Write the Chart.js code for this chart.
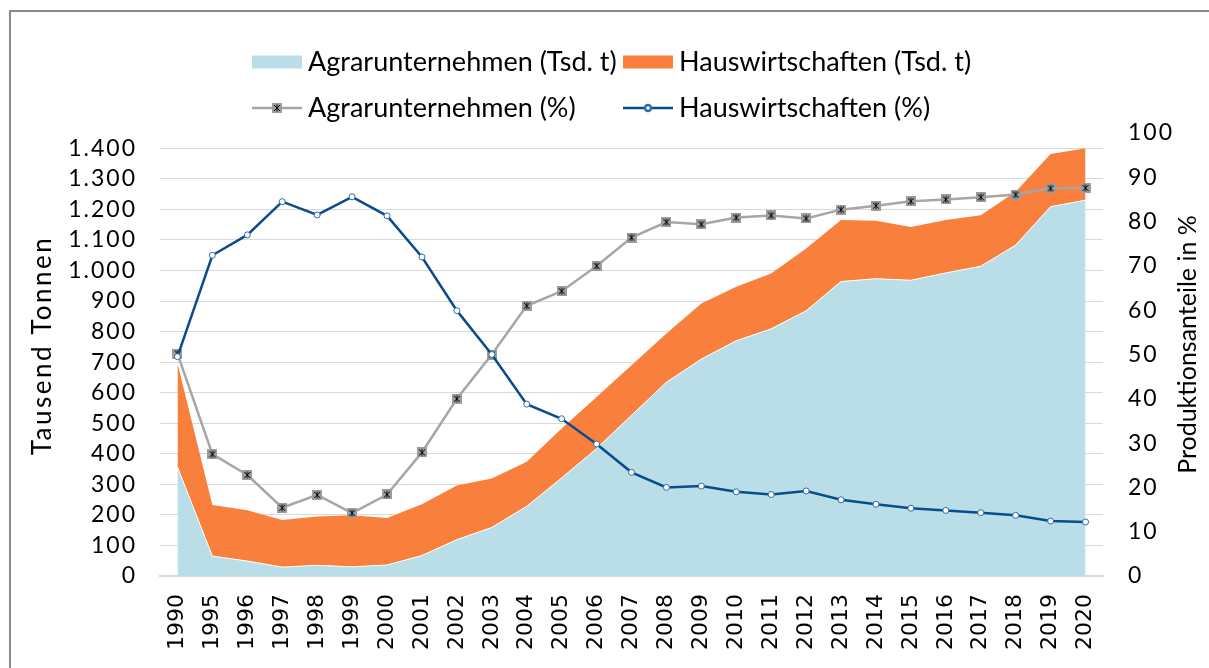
<!DOCTYPE html>
<html>
<head>
<meta charset="utf-8">
<script src="https://cdn.jsdelivr.net/npm/chart.js@4/dist/chart.umd.min.js"></script>
<style>
html,body{margin:0;padding:0;background:#fff;overflow:hidden}
canvas{display:block}
</style>
</head>
<body>
<canvas id="c" width="1209" height="668"></canvas>
<script>
// ---- data ----
const years = ['1990','1995','1996','1997','1998','1999','2000','2001','2002','2003','2004','2005','2006','2007','2008','2009','2010','2011','2012','2013','2014','2015','2016','2017','2018','2019','2020'];
const agrarTsdT = [357, 65, 49, 29, 35, 30, 36, 67, 119, 159, 228, 321, 417, 526, 634, 710, 770, 809, 868, 964, 973, 968, 992, 1014, 1083, 1209, 1230];
const hausTsdT  = [339, 167, 166, 154, 160, 169, 154, 168, 177, 160, 146, 162, 169, 164, 160, 182, 177, 181, 204, 201, 190, 174, 173, 167, 175, 172, 170];
const agrarPct  = [50.2, 27.5, 22.8, 15.4, 18.3, 14.2, 18.4, 27.9, 40.0, 50.0, 61.0, 64.3, 70.0, 76.4, 79.9, 79.4, 80.9, 81.4, 80.7, 82.7, 83.6, 84.6, 85.0, 85.5, 86.1, 87.5, 87.6];
const hausPct   = [49.5, 72.4, 77.0, 84.5, 81.5, 85.6, 81.3, 72.0, 59.9, 50.0, 38.8, 35.5, 29.8, 23.4, 20.0, 20.3, 19.0, 18.4, 19.2, 17.2, 16.2, 15.3, 14.8, 14.3, 13.7, 12.4, 12.2];
const tonnenTicks  = [0,100,200,300,400,500,600,700,800,900,1000,1100,1200,1300,1400];
const prozentTicks = [0,10,20,30,40,50,60,70,80,90,100];
const leftTitle  = 'Tausend Tonnen';
const rightTitle = 'Produktionsanteile in %';

// ---- marker image for the % series of Agrarunternehmen ----
const starMarker = document.createElement('canvas');
starMarker.width = 10; starMarker.height = 10;
(function(){
  const g = starMarker.getContext('2d');
  g.fillStyle = '#9c9c9c';
  g.fillRect(0, 0, 10, 10);
  g.strokeStyle = '#000';
  g.lineWidth = 1;
  g.beginPath();
  g.moveTo(2, 2); g.lineTo(8, 8);
  g.moveTo(8, 2); g.lineTo(2, 8);
  g.moveTo(5, 1.5); g.lineTo(5, 8.5);
  g.stroke();
})();

const fmtDe = v => String(v).replace(/\B(?=(\d{3})+(?!\d))/g, '.');

// letter spacing for scale labels / titles
function spaceText(scale, labelSpacing, titleSpacing, titleShift) {
  if (scale.$spaced) return;
  scale.$spaced = true;
  const dl = scale.drawLabels, dt = scale.drawTitle;
  scale.drawLabels = function(area) {
    const c = this.ctx; c.save(); c.letterSpacing = labelSpacing; dl.call(this, area); c.restore();
  };
  scale.drawTitle = function() {
    const c = this.ctx; c.save(); c.letterSpacing = titleSpacing; c.translate(0, -titleShift); dt.call(this); c.restore();
  };
}

const frame = {
  id: 'frame',
  beforeDraw(chart) {
    const ctx = chart.ctx;
    ctx.save();
    ctx.fillStyle = '#fff';
    ctx.fillRect(0, 0, chart.width, chart.height);
    ctx.strokeStyle = '#8a8a8a';
    ctx.lineWidth = 2;
    ctx.strokeRect(10, 11, chart.width + 40, chart.height + 40);
    ctx.restore();
  }
};

const rightAxisTitle = {
  id: 'rightAxisTitle',
  afterDraw(chart, args, opts) {
    const ctx = chart.ctx, s = chart.scales.y1;
    ctx.save();
    ctx.font = opts.font;
    ctx.fillStyle = '#000';
    ctx.textAlign = 'center';
    ctx.textBaseline = 'middle';
    ctx.translate(s.right - opts.offset, (s.top + s.bottom) / 2 - opts.shift);
    ctx.rotate(-Math.PI / 2);
    ctx.fillText(opts.text, 0, 0);
    ctx.restore();
  }
};

const gridLegend = {
  id: 'gridLegend',
  afterDraw(chart, args, opts) {
    const ctx = chart.ctx;
    ctx.save();
    ctx.font = opts.font;
    ctx.textBaseline = 'middle';
    ctx.textAlign = 'left';
    chart.data.datasets.forEach((ds, i) => {
      const x = opts.cols[i % 2];
      const y = opts.rows[Math.floor(i / 2)];
      if (ds.yAxisID === 'y') {
        ctx.fillStyle = ds.backgroundColor;
        ctx.fillRect(x, y - 6.5, opts.swatch, 13);
      } else {
        ctx.strokeStyle = ds.borderColor;
        ctx.lineWidth = ds.borderWidth;
        ctx.beginPath();
        ctx.moveTo(x, y); ctx.lineTo(x + opts.swatch, y);
        ctx.stroke();
        ctx.fillStyle = ds.pointBackgroundColor || '#fff';
        ctx.strokeStyle = ds.pointBorderColor || ds.borderColor;
        Chart.helpers.drawPoint(ctx, {
          pointStyle: ds.pointStyle, radius: ds.pointRadius, rotation: 0,
          borderWidth: ds.pointBorderWidth || 1
        }, x + opts.swatch / 2, y);
      }
      ctx.fillStyle = '#000';
      ctx.fillText(ds.label, x + opts.swatch + 6, y);
    });
    ctx.restore();
  }
};

new Chart(document.getElementById('c'), {
  type: 'line',
  data: {
    labels: years,
    datasets: [
      { label: 'Agrarunternehmen (Tsd. t)', data: agrarTsdT, yAxisID: 'y',
        backgroundColor: '#BADEE8', borderColor: '#ffffff', borderWidth: 1,
        fill: 'origin', pointRadius: 0, tension: 0, order: 2 },
      { label: 'Hauswirtschaften (Tsd. t)', data: hausTsdT, yAxisID: 'y',
        backgroundColor: '#F8803C', borderColor: '#F8803C', borderWidth: 0,
        fill: '-1', pointRadius: 0, tension: 0, order: 3 },
      { label: 'Agrarunternehmen (%)', data: agrarPct, yAxisID: 'y1',
        borderColor: '#A6A6A6', borderWidth: 2.5, fill: false,
        pointStyle: starMarker, pointRadius: 5, tension: 0, order: 1 },
      { label: 'Hauswirtschaften (%)', data: hausPct, yAxisID: 'y1',
        borderColor: '#0A4C8B', borderWidth: 2.5, fill: false,
        pointStyle: 'circle', pointRadius: 3, pointBackgroundColor: '#ffffff',
        pointBorderColor: '#2C6BA8', pointBorderWidth: 1, tension: 0, order: 0 }
    ]
  },
  options: {
    responsive: false,
    animation: false,
    devicePixelRatio: 1,
    layout: { padding: { top: 133, left: 10, right: 0, bottom: 0 } },
    plugins: {
      legend: { display: false },
      tooltip: { enabled: false },
      gridLegend: { font: '27px Lato', cols: [252, 623], rows: [62, 108], swatch: 50 },
      rightAxisTitle: { text: rightTitle, font: '25px Lato', offset: 21, shift: 10 }
    },
    scales: {
      x: {
        offset: true,
        grid: { display: false, drawTicks: false },
        border: { display: true, color: '#D9D9D9', width: 2 },
        ticks: { autoSkip: false, minRotation: 90, maxRotation: 90, padding: 18,
                 color: '#000', font: { family: 'DejaVu Sans', size: 22 } },
        afterFit: s => { s.height = 92; }
      },
      y: {
        position: 'left', stacked: true, min: 0, max: 1450,
        afterBuildTicks: a => { a.ticks = tonnenTicks.map(v => ({ value: v })); },
        grid: { color: '#D9D9D9', lineWidth: 1, drawTicks: false },
        border: { display: false },
        ticks: { padding: 23, color: '#000', font: { family: 'Lato', size: 23 },
                 callback: v => fmtDe(v) },
        title: { display: true, text: leftTitle, color: '#000',
                 font: { family: 'Lato', size: 26, lineHeight: 1 }, padding: { top: 20, bottom: 0 } },
        afterFit: s => { s.width = 150; spaceText(s, '2px', '2.5px', 9); }
      },
      y1: {
        position: 'right', min: 0, max: 100,
        afterBuildTicks: a => { a.ticks = prozentTicks.map(v => ({ value: v })); },
        grid: { display: false, drawTicks: false },
        border: { display: false },
        ticks: { padding: 25, color: '#000', font: { family: 'Lato', size: 23 } },
        title: { display: false },
        afterFit: s => { s.width = 106; spaceText(s, '2px', '0px', 0); }
      }
    }
  },
  plugins: [frame, gridLegend, rightAxisTitle]
});
</script>
</body>
</html>
